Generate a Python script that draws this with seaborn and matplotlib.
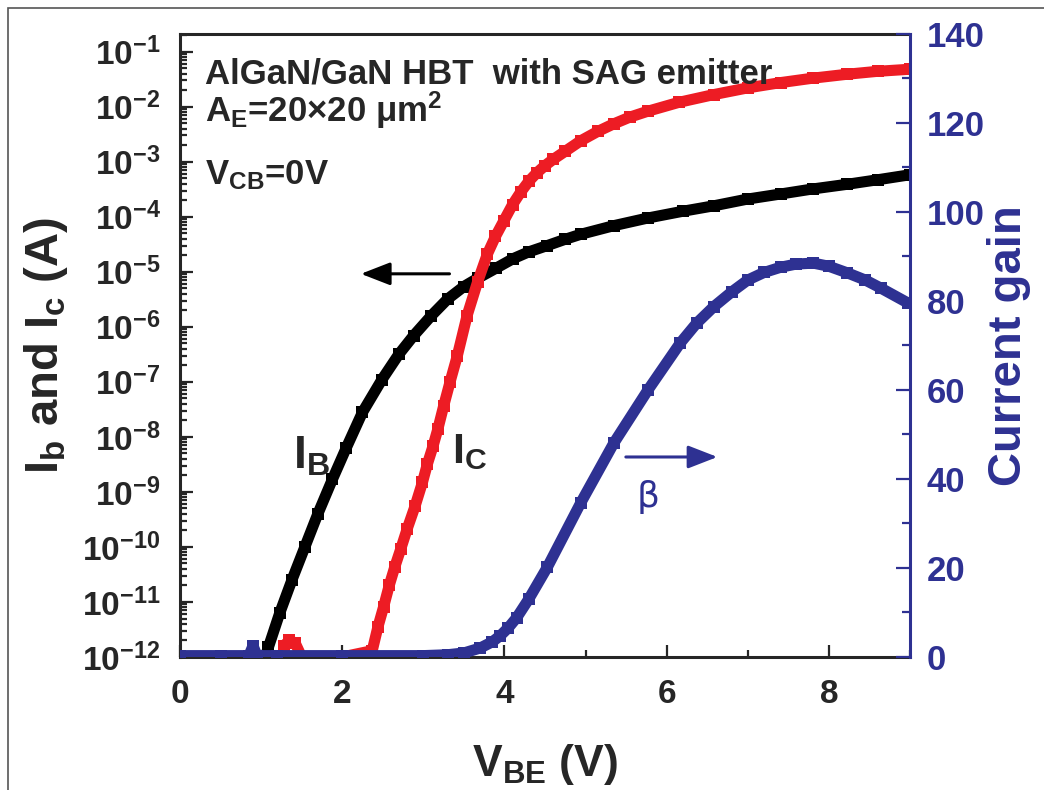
"""Gummel plot and current gain of an AlGaN/GaN HBT with SAG emitter."""
import matplotlib
matplotlib.use("Agg")
import matplotlib.pyplot as plt
import matplotlib.ticker as mticker
from matplotlib.patches import Rectangle
import numpy as np
import seaborn as sns

# base current (A) vs V_BE (V)
vbe_ib = [1.05, 1.09, 1.23, 1.38, 1.54, 1.70, 1.88, 2.05, 2.25, 2.49, 2.70,
          2.88, 3.10, 3.30, 3.50, 3.67, 3.90, 4.11, 4.30, 4.53, 4.75, 4.94,
          5.35, 5.77, 6.20, 6.58, 7.00, 7.41, 7.80, 8.23, 8.60, 9.00]
ib = [1.0e-12, 1.5e-12, 6.3e-12, 2.5e-11, 1.0e-10, 4.0e-10, 1.7e-9, 6.3e-9,
      2.8e-8, 1.1e-7, 3.2e-7, 6.9e-7, 1.6e-6, 3.2e-6, 5.4e-6, 7.6e-6,
      1.17e-5, 1.74e-5, 2.3e-5, 3.0e-5, 3.9e-5, 4.8e-5, 6.9e-5, 9.5e-5,
      1.26e-4, 1.58e-4, 2.1e-4, 2.6e-4, 3.2e-4, 3.9e-4, 4.7e-4, 5.8e-4]

# collector current (A) vs V_BE (V)
vbe_ic = [1.28, 1.35, 1.42, 1.50, 2.00, 2.37, 2.44, 2.51, 2.58, 2.65, 2.72,
          2.80, 2.90, 2.99, 3.05, 3.12, 3.18, 3.25, 3.33, 3.42, 3.54, 3.67,
          3.79, 3.89, 3.99, 4.10, 4.20, 4.30, 4.40, 4.50, 4.60, 4.75, 4.94,
          5.15, 5.35, 5.55, 5.77, 6.15, 6.58, 7.00, 7.41, 7.80, 8.23, 8.60,
          9.00]
ic = [1.6e-12, 2.0e-12, 1.8e-12, 1.0e-12, 1.0e-12, 1.3e-12, 3.5e-12,
      8.1e-12, 2.0e-11, 4.4e-11, 9.0e-11, 2.1e-10, 5.6e-10, 1.5e-9, 3.2e-9,
      6.8e-9, 1.4e-8, 3.6e-8, 1.0e-7, 3.0e-7, 1.6e-6, 6.6e-6, 2.1e-5,
      4.4e-5, 8.3e-5, 1.66e-4, 2.8e-4, 4.4e-4, 6.3e-4, 8.5e-4, 1.1e-3,
      1.55e-3, 2.4e-3, 3.55e-3, 4.9e-3, 6.5e-3, 8.3e-3, 1.2e-2, 1.66e-2,
      2.2e-2, 2.75e-2, 3.3e-2, 3.9e-2, 4.4e-2, 4.8e-2]

# current gain vs V_BE (V)
vbe_beta = [0.00, 0.50, 0.85, 0.90, 0.95, 1.20, 2.00, 3.00, 3.30, 3.50,
            3.70, 3.85, 3.95, 4.05, 4.15, 4.30, 4.53, 4.94, 5.35, 5.77,
            6.17, 6.37, 6.58, 6.80, 7.00, 7.20, 7.41, 7.60, 7.81, 8.00,
            8.23, 8.45, 8.64, 8.97]
beta = [0.3, 0.3, 0.3, 2.5, 0.3, 0.3, 0.3, 0.3, 0.5, 0.9, 2.0, 3.4, 4.8,
        6.6, 8.8, 13.0, 20.2, 34.6, 48.1, 60.0, 70.6, 75.0, 78.7, 82.0,
        84.7, 86.4, 87.6, 88.3, 88.5, 87.8, 86.3, 84.7, 82.9, 79.6]

BLACK = "#000000"
RED = "#ED1C24"
BLUE = "#2E3192"

sns.set_style("ticks")
plt.rcParams.update({
    "font.family": ["Liberation Sans", "DejaVu Sans"],
    "font.weight": "bold",
    "mathtext.fontset": "custom",
    "mathtext.rm": "Liberation Sans:bold",
    "mathtext.bf": "Liberation Sans:bold",
    "mathtext.it": "Liberation Sans:bold",
})

fig = plt.figure(figsize=(10.44, 7.90), dpi=100)
ax = fig.add_axes([0.1724, 0.1684, 0.6992, 0.7886])
ax2 = ax.twinx()

kw = dict(marker="s", markersize=9, linewidth=8, markeredgewidth=0)
sns.lineplot(x=vbe_ib, y=ib, ax=ax, color=BLACK, mec=BLACK, **kw)
sns.lineplot(x=vbe_ic, y=ic, ax=ax, color=RED, mec=RED, **kw)
sns.lineplot(x=vbe_beta, y=beta, ax=ax2, color=BLUE, mec=BLUE, **kw)

ax.set_yscale("log")
ax.set_xlim(0, 9)
ax.set_ylim(1e-12, 0.21)
ax2.set_ylim(0, 140)

ax.yaxis.set_major_locator(mticker.LogLocator(base=10, numticks=20))
ax.yaxis.set_minor_locator(
    mticker.LogLocator(base=10, subs=np.arange(2, 10), numticks=20))
ax.yaxis.set_major_formatter(mticker.FuncFormatter(
    lambda v, p: r"$\mathbf{10^{%d}}$" % round(np.log10(v))))
ax.yaxis.set_minor_formatter(mticker.NullFormatter())
ax.set_xticks([0, 2, 4, 6, 8])
ax.xaxis.set_minor_locator(mticker.MultipleLocator(1))
ax2.yaxis.set_major_locator(mticker.MultipleLocator(20))
ax2.yaxis.set_minor_locator(mticker.MultipleLocator(10))

ax.tick_params(which="both", direction="in", top=False, right=False,
               width=1.6)
ax.tick_params(which="major", length=9, labelsize=24)
ax.tick_params(axis="x", which="major", pad=16)
ax.tick_params(axis="y", which="major", pad=14)
ax.tick_params(which="minor", length=5)
ax2.tick_params(axis="y", which="both", direction="in", colors=BLUE,
                width=1.6)
ax2.tick_params(axis="y", which="major", length=10, labelsize=25, pad=12)
ax2.tick_params(axis="y", which="minor", length=6)

for s in ["left", "top", "bottom"]:
    ax.spines[s].set_linewidth(2.2)
    ax2.spines[s].set_visible(False)
ax.spines["right"].set_visible(False)
ax2.spines["right"].set_color(BLUE)
ax2.spines["right"].set_linewidth(2.2)

ax.set_xlabel(r"V$_\mathbf{BE}$ (V)", fontsize=32, fontweight="bold")
ax.set_ylabel(r"I$_\mathbf{b}$ and I$_\mathbf{c}$ (A)", fontsize=34,
              fontweight="bold")
ax2.set_ylabel("Current gain", fontsize=34, fontweight="bold", color=BLUE)
ax.xaxis.set_label_coords(0.5, -0.136)
ax.yaxis.set_label_coords(-0.151, 0.5)
ax2.yaxis.set_label_coords(1.105, 0.5)

# annotations
ax.text(0.034, 0.921, "AlGaN/GaN HBT  with SAG emitter", transform=ax.transAxes,
        fontsize=25, va="baseline")
ax.text(0.034, 0.859, r"A$_\mathbf{E}$=20×20 μm$^\mathbf{2}$",
        transform=ax.transAxes, fontsize=25, va="baseline")
ax.text(0.034, 0.758, r"V$_\mathbf{CB}$=0V", transform=ax.transAxes,
        fontsize=25, va="baseline")
ax.text(0.155, 0.303, r"I$_\mathbf{B}$", transform=ax.transAxes,
        fontsize=33, va="baseline")
ax.text(0.373, 0.311, r"I$_\mathbf{C}$", transform=ax.transAxes,
        fontsize=31, va="baseline")
ax.text(0.626, 0.257, "β", transform=ax.transAxes, fontsize=26,
        fontweight="normal", color=BLUE, va="center",
        family=["DejaVu Sans"])

ax.annotate("", xy=(0.244, 0.615), xytext=(0.373, 0.615),
            xycoords="axes fraction",
            arrowprops=dict(arrowstyle="-|>,head_length=0.9,head_width=0.35",
                            color=BLACK, lw=2.2, mutation_scale=20))
ax.annotate("", xy=(0.740, 0.321), xytext=(0.607, 0.321),
            xycoords="axes fraction",
            arrowprops=dict(arrowstyle="-|>,head_length=0.9,head_width=0.35",
                            color=BLUE, lw=2.2, mutation_scale=20))

# thin frame around the picture
fig.patches.append(Rectangle((8 / 1044, -0.05), 1.1, 1.05 - 8 / 790,
                             transform=fig.transFigure, fill=False,
                             edgecolor="#555555", lw=1.2))

fig.savefig("out.png", dpi=100)
